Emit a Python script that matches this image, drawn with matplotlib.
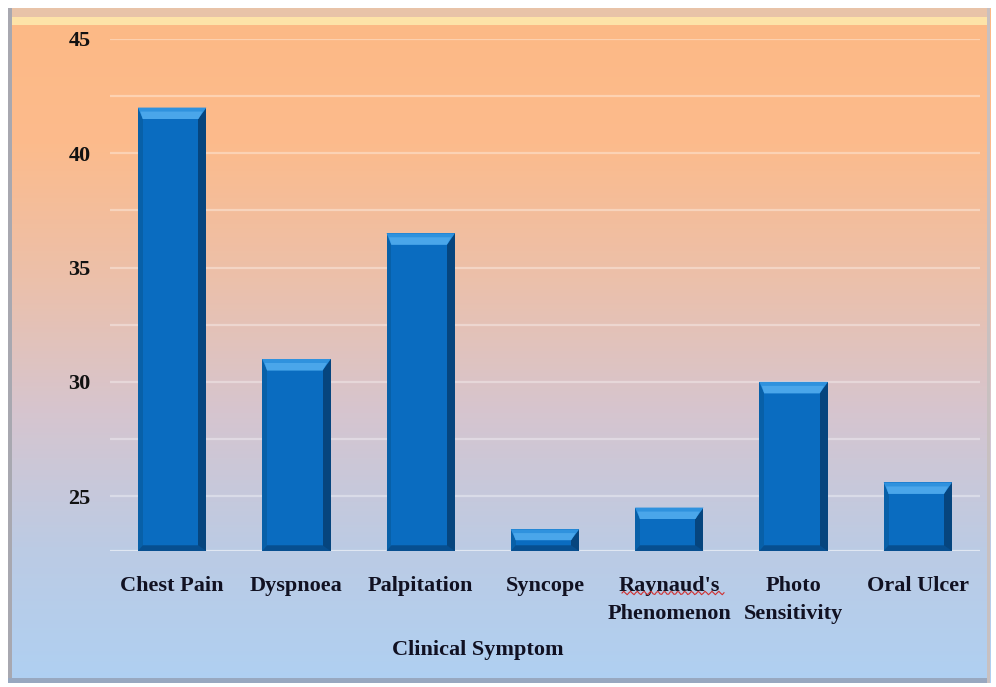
import numpy as np
import matplotlib
matplotlib.use("Agg")
import matplotlib.pyplot as plt
from matplotlib.colors import LinearSegmentedColormap
from matplotlib.patches import Polygon, Rectangle

# data
categories = ["Chest Pain", "Dyspnoea", "Palpitation", "Syncope",
              "Raynaud's\nPhenomenon", "Photo\nSensitivity", "Oral Ulcer"]
values = [42.0, 31.0, 36.5, 23.55, 24.5, 30.0, 25.6]
y_ticks = [25, 30, 35, 40, 45]
y_grid = [25, 27.5, 30, 32.5, 35, 37.5, 40, 42.5, 45]
x_title = "Clinical Symptom"

W, H = 996, 687
fig = plt.figure(figsize=(W / 100, H / 100), dpi=100)
fig.patch.set_facecolor("white")
serif = ["Liberation Serif", "DejaVu Serif"]

# gradient panel background
bg = fig.add_axes([8 / W, 4 / H, 982 / W, 675 / H], zorder=0)
grad = LinearSegmentedColormap.from_list(
    "bg", ["#afd0f2", "#bccbe4", "#d6c5cf", "#ecc0aa", "#fcbb8c", "#fdb985"])
bg.imshow(np.linspace(0, 1, 256).reshape(-1, 1), aspect="auto", cmap=grad,
          extent=[0, 1, 0, 1], origin="lower")
bg.set_xlim(0, 1)
bg.set_ylim(0, 1)
bg.axis("off")
# bevelled frame edges
bg.add_patch(Rectangle((0, 0.975), 1, 0.012, color="#fde3a8", lw=0))
bg.add_patch(Rectangle((0, 0.987), 1, 0.013, color="#e8c3a8", lw=0))
bg.add_patch(Rectangle((0, 0), 0.004, 1, color="#a8a8b0", lw=0))
bg.add_patch(Rectangle((0, 0), 1, 0.007, color="#98a8c0", lw=0))
bg.add_patch(Rectangle((0.997, 0), 0.003, 1, color="#c8c0c0", lw=0))

ax = fig.add_axes([110 / W, (H - 551) / H, 870 / W, 512 / H], zorder=1)
ax.patch.set_alpha(0)
ax.set_xlim(-0.5, 6.5)
ax.set_ylim(22.6, 45)

for g in y_grid:
    ax.axhline(g, color="#ffffff", alpha=0.35, lw=1.6, zorder=1)
ax.axhline(22.6, color="#ffffff", alpha=0.55, lw=1.6, zorder=1)

x = np.arange(len(categories))
bw = 0.55
base = 22.6
ax.bar(x, [v - base for v in values], bottom=base, width=bw,
       color="#0a6cc0", edgecolor="none", zorder=2)

# bevel shading for each bar
dx = 0.065
dy = 0.5
for xi, v in zip(x, values):
    l, r = xi - bw / 2, xi + bw / 2
    h = min(dy, (v - base) / 2)
    # right dark edge
    ax.add_patch(Polygon([(r, v), (r, base), (r - dx, base), (r - dx, v - h)],
                         closed=True, color="#06457e", lw=0, zorder=3))
    # left slightly dark edge
    ax.add_patch(Polygon([(l, v), (l, base), (l + dx * 0.6, base), (l + dx * 0.6, v - h)],
                         closed=True, color="#0860a8", lw=0, zorder=3))
    # bottom dark edge
    ax.add_patch(Polygon([(l, base), (r, base), (r - dx, base + 0.25), (l + dx * 0.6, base + 0.25)],
                         closed=True, color="#074f90", lw=0, zorder=3))
    # top light bevel
    ax.add_patch(Polygon([(l, v), (r, v), (r - dx, v - h), (l + dx * 0.6, v - h)],
                         closed=True, color="#2f92de", lw=0, zorder=4))
    ax.add_patch(Polygon([(l + 0.02, v - h * 0.35), (r - 0.03, v - h * 0.35),
                          (r - dx, v - h), (l + dx * 0.6, v - h)],
                         closed=True, color="#4aa6ea", lw=0, zorder=4))

for s in ax.spines.values():
    s.set_visible(False)
ax.tick_params(length=0)
ax.set_yticks(y_ticks)
ax.set_yticklabels([str(t) for t in y_ticks], family=serif, fontweight="bold",
                   fontsize=16, color="#111111")
ax.tick_params(axis="y", pad=14)
ax.set_xticks(x)
ax.set_xticklabels(categories, family=serif, fontweight="bold", fontsize=16,
                   color="#111122", linespacing=1.55)
ax.tick_params(axis="x", pad=18)

# spell-check squiggle under Raynaud's
sx = np.linspace(622 / W, 724 / W, 60)
sy = (H - 593) / H + 0.0025 * np.sin(np.arange(60) * 1.6)
fig.add_artist(plt.Line2D(sx, sy, color="#d03030", lw=0.8, zorder=5))

fig.text(478 / W, 1 - 650 / H, x_title, family=serif, fontweight="bold",
         fontsize=16, color="#111122", ha="center", va="center")

fig.savefig("out.png", dpi=100)
